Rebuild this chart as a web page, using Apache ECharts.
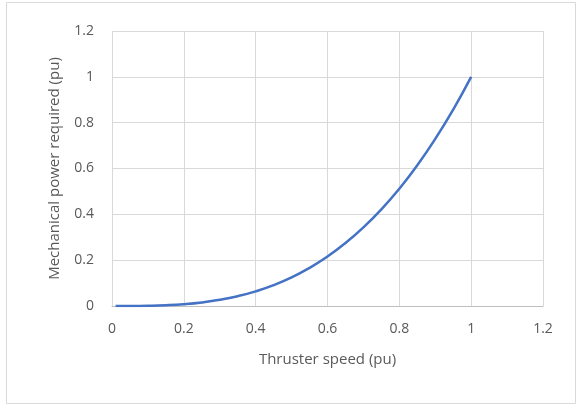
<!DOCTYPE html>
<html><head><meta charset="utf-8">
<script src="https://cdn.jsdelivr.net/npm/echarts@6/dist/echarts.min.js"></script>
<style>html,body{margin:0;padding:0;background:#fff}#c{width:581px;height:406px}</style>
</head><body><div id="c"></div>
<script>
var speed = [0.01, 0.05, 0.1, 0.15, 0.2, 0.25, 0.3, 0.35, 0.4, 0.45, 0.5, 0.55, 0.6, 0.65, 0.7, 0.75, 0.8, 0.85, 0.9, 0.95, 1.0];
var power = [0.0, 0.0001, 0.001, 0.0034, 0.008, 0.0156, 0.027, 0.0429, 0.064, 0.0911, 0.125, 0.1664, 0.216, 0.2746, 0.343, 0.4219, 0.512, 0.6141, 0.729, 0.8574, 1.0];
var xTicks = [0, 0.2, 0.4, 0.6, 0.8, 1, 1.2];
var yTicks = [0, 0.2, 0.4, 0.6, 0.8, 1, 1.2];
var xTitle = 'Thruster speed (pu)';
var yTitle = 'Mechanical power required (pu)';

var chart = echarts.init(document.getElementById('c'));
var font = "'Open Sans', sans-serif";
chart.setOption({
  animation: false,
  graphic: [{type:'rect', shape:{x:6.5,y:2.5,width:569,height:401}, style:{fill:'none', stroke:'#d9d9d9', lineWidth:1}}],
  grid: {left:112, right:38, top:31, bottom:100},
  xAxis: {
    type:'value', min:xTicks[0], max:xTicks[xTicks.length-1], interval:0.2,
    name:xTitle, nameLocation:'middle', nameGap:46,
    nameTextStyle:{color:'#595959', fontSize:15, fontFamily:font},
    axisLine:{show:true, lineStyle:{color:'#bfbfbf', width:1}},
    axisTick:{show:false},
    axisLabel:{color:'#595959', fontSize:14, fontFamily:font, margin:16, formatter:function(v){return String(Math.round(v*10)/10);}},
    splitLine:{show:true, lineStyle:{color:'#d9d9d9', width:1}}
  },
  yAxis: {
    type:'value', min:yTicks[0], max:yTicks[yTicks.length-1], interval:0.2,
    name:yTitle, nameLocation:'middle', nameGap:50, nameRotate:90,
    nameTextStyle:{color:'#595959', fontSize:15, fontFamily:font},
    axisLine:{show:false},
    axisTick:{show:false},
    axisLabel:{color:'#595959', fontSize:14, fontFamily:font, margin:18, formatter:function(v){return String(Math.round(v*10)/10);}},
    splitLine:{show:true, lineStyle:{color:'#d9d9d9', width:1}}
  },
  series: [{
    type:'line', smooth:true, symbol:'none',
    data: speed.map(function(s,i){return [s, power[i]];}),
    lineStyle:{color:'#4472C4', width:2.5}
  }]
});
</script></body></html>
